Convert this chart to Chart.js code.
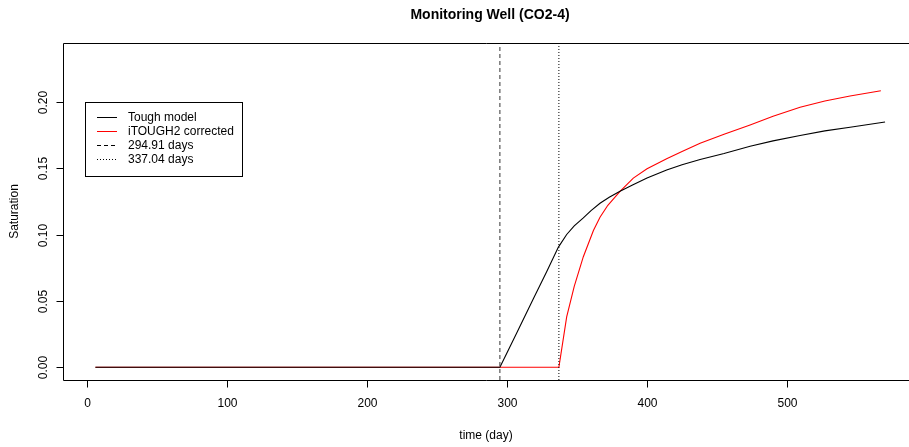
<!DOCTYPE html>
<html>
<head>
<meta charset="utf-8">
<script src="https://cdn.jsdelivr.net/npm/chart.js@4"></script>
<style>
html,body{margin:0;padding:0;background:#fff;}
#wrap{width:909px;height:447px;position:relative;}
</style>
</head>
<body>
<div id="wrap"><canvas id="c" width="909" height="447"></canvas></div>
<script>
// ---- data ----
const toughX = [6, 294.91, 300, 307, 318.8, 328.3, 336.7, 342.6, 348, 354.5, 360, 366.4, 373, 380.7, 390, 400, 414, 425, 437.9, 455, 473.6, 490, 509.3, 527, 545, 570];
const toughY = [0, 0, 0.011, 0.026, 0.0516, 0.072, 0.0905, 0.1, 0.1065, 0.1125, 0.118, 0.1235, 0.128, 0.1325, 0.1375, 0.1425, 0.1485, 0.1525, 0.1565, 0.161, 0.1665, 0.1705, 0.1745, 0.178, 0.1807, 0.1847];
const itoughX = [6, 337.04, 342.6, 348, 354.5, 361.7, 366.4, 372, 380.7, 390.2, 400, 414, 425, 437.9, 455, 473.6, 490, 509.3, 527, 545, 567];
const itoughY = [0, 0, 0.038, 0.061, 0.0833, 0.103, 0.113, 0.122, 0.1325, 0.1425, 0.1495, 0.157, 0.1625, 0.1687, 0.1755, 0.1825, 0.189, 0.1958, 0.2005, 0.2043, 0.2083];
const markerDays = [294.91, 337.04];
const seriesNames = ["Tough model", "iTOUGH2 corrected", "294.91 days", "337.04 days"];
const xTicks = [0, 100, 200, 300, 400, 500];
const yTicks = [0, 0.05, 0.10, 0.15, 0.20];
const yTickLabels = ["0.00", "0.05", "0.10", "0.15", "0.20"];
const titleText = "Monitoring Well (CO2-4)";
const xLabel = "time (day)";
const yLabel = "Saturation";

const X_MIN = -17.14, X_MAX = 587.1, Y_MIN = -0.00956, Y_MAX = 0.2442;

function pts(xs, ys){ return xs.map((x,i)=>({x:x, y:ys[i]})); }

const FONT = '"Liberation Sans", Arial, Helvetica, sans-serif';

const rAxes = {
  id: 'rAxes',
  afterDraw(chart){
    const ctx = chart.ctx, a = chart.chartArea, xs = chart.scales.x, ys = chart.scales.y;
    ctx.save();
    ctx.strokeStyle = '#000';
    ctx.lineWidth = 1;
    // box
    ctx.beginPath();
    ctx.moveTo(a.right + 5, a.top + 0.5);
    ctx.lineTo(a.left + 0.5, a.top + 0.5);
    ctx.lineTo(a.left + 0.5, a.bottom + 0.5);
    ctx.lineTo(a.right + 5, a.bottom + 0.5);
    ctx.stroke();
    ctx.fillStyle = '#000';
    ctx.font = '12px ' + FONT;
    // x ticks
    ctx.textAlign = 'center';
    ctx.textBaseline = 'middle';
    xTicks.forEach(v => {
      const px = Math.round(xs.getPixelForValue(v)) + 0.5;
      ctx.beginPath();
      ctx.moveTo(px, a.bottom + 0.5);
      ctx.lineTo(px, a.bottom + 7.5);
      ctx.stroke();
      ctx.fillText(String(v), px, 404);
    });
    // y ticks
    yTicks.forEach((v, i) => {
      const py = Math.round(ys.getPixelForValue(v)) + 0.5;
      ctx.beginPath();
      ctx.moveTo(a.left - 6.5, py);
      ctx.lineTo(a.left + 0.5, py);
      ctx.stroke();
      ctx.save();
      ctx.translate(44, py);
      ctx.rotate(-Math.PI / 2);
      ctx.fillText(yTickLabels[i], 0, 0);
      ctx.restore();
    });
    // axis titles
    ctx.fillText(xLabel, 486, 436);
    ctx.save();
    ctx.translate(15, (a.top + a.bottom) / 2);
    ctx.rotate(-Math.PI / 2);
    ctx.fillText(yLabel, 0, 0);
    ctx.restore();
    // title
    ctx.font = 'bold 14px ' + FONT;
    ctx.fillText(titleText, 490, 15);
    // legend
    const lx = 85.5, ly = 102.5, lw = 157, lh = 74;
    ctx.fillStyle = '#fff';
    ctx.fillRect(lx, ly, lw, lh);
    ctx.strokeStyle = '#000';
    ctx.strokeRect(lx, ly, lw, lh);
    const styles = [
      {c:'#000', d:[]},
      {c:'#ff0000', d:[]},
      {c:'#000', d:[4,3]},
      {c:'#000', d:[1,2]}
    ];
    ctx.font = '12px ' + FONT;
    ctx.textAlign = 'left';
    seriesNames.forEach((name, i) => {
      const y = 117.5 + i * 14;
      ctx.strokeStyle = styles[i].c;
      ctx.setLineDash(styles[i].d);
      ctx.beginPath();
      ctx.moveTo(97, y);
      ctx.lineTo(117, y);
      ctx.stroke();
      ctx.setLineDash([]);
      ctx.fillStyle = '#000';
      ctx.fillText(name, 128, y);
    });
    ctx.restore();
  }
};

new Chart(document.getElementById('c'), {
  type: 'scatter',
  data: {
    datasets: [
      {label: seriesNames[2], data: [{x:markerDays[0], y:Y_MIN}, {x:markerDays[0], y:Y_MAX}], showLine:true, borderColor:'#333', borderWidth:1, borderDash:[4,3], pointRadius:0},
      {label: seriesNames[3], data: [{x:markerDays[1], y:Y_MIN}, {x:markerDays[1], y:Y_MAX}], showLine:true, borderColor:'#000', borderWidth:1, borderDash:[1,2], pointRadius:0},
      {label: seriesNames[0], data: pts(toughX, toughY), showLine:true, borderColor:'#000', borderWidth:1.1, pointRadius:0, tension:0},
      {label: seriesNames[1], data: pts(itoughX, itoughY), showLine:true, borderColor:'#ff0000', borderWidth:1.1, pointRadius:0, tension:0}
    ]
  },
  options: {
    responsive: false,
    animation: false,
    layout: {padding: {left: 63, top: 43, right: 0, bottom: 67}},
    plugins: {legend: {display:false}, tooltip: {enabled:false}, title: {display:false}},
    scales: {
      x: {type:'linear', min:X_MIN, max:X_MAX, display:false},
      y: {type:'linear', min:Y_MIN, max:Y_MAX, display:false}
    }
  },
  plugins: [rAxes]
});
</script>
</body>
</html>
